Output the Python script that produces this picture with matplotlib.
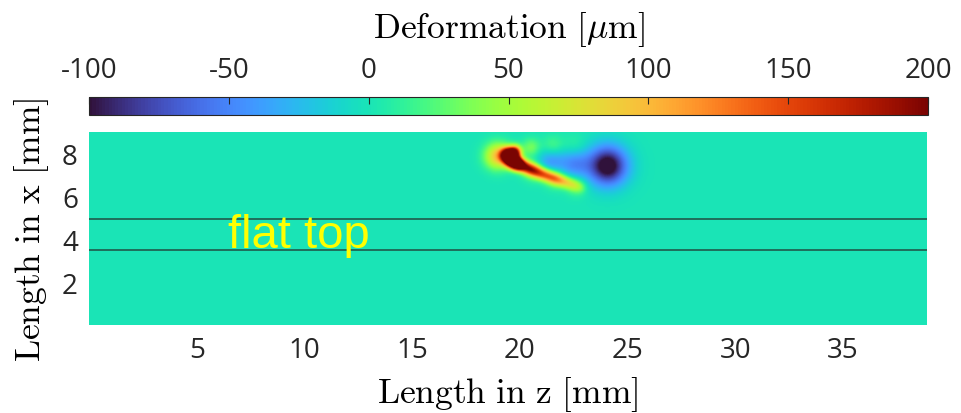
import numpy as np
import matplotlib.pyplot as plt
from matplotlib import colors

plt.rcParams['mathtext.fontset'] = 'cm'
plt.rcParams['axes.unicode_minus'] = False

# plate extent [mm]
z_len = 38.9
x_len = 9.0

background = 0.0
spot_z = [18.95, 19.4, 19.6, 19.75, 19.85,
          20.1, 20.4, 20.7, 21.0, 21.3, 21.6, 21.9, 22.2, 22.5, 22.8,
          20.6, 21.6, 22.6,
          20.5, 21.5, 22.5,
          21.4, 22.5, 24.05]
spot_x = [7.85, 7.9, 7.65, 8.05, 7.5,
          7.40, 7.27, 7.15, 7.03, 6.92, 6.81, 6.71, 6.61, 6.50, 6.40,
          7.15, 6.8, 6.45,
          8.25, 8.3, 8.3,
          7.6, 7.5, 7.4]
spot_amp = [95, 250, 250, 170, 240,
            131, 119, 106, 96, 87, 77, 64, 51, 38, 22,
            28, 28, 22,
            35, 25, 15,
            -40, -45, -115]
spot_sig = [0.42, 0.22, 0.22, 0.2, 0.2,
            0.2, 0.2, 0.2, 0.2, 0.2, 0.2, 0.2, 0.2, 0.2, 0.2,
            0.35, 0.35, 0.35,
            0.3, 0.35, 0.4,
            0.45, 0.5, 0.65]

# laser track borders
track_lines = [4.95, 3.52]

cbar_ticks = [-100, -50, 0, 50, 100, 150, 200]
z_ticks = [5, 10, 15, 20, 25, 30, 35]
x_ticks = [2, 4, 6, 8]

zz, xx = np.meshgrid(np.arange(0, z_len, 0.05), np.arange(0, x_len, 0.05))
field = np.full(zz.shape, background)
for zc, xc, a, s in zip(spot_z, spot_x, spot_amp, spot_sig):
    field += a * np.exp(-((zz - zc) ** 2 + (xx - xc) ** 2) / (2 * s ** 2))

W, H = 961, 414
fig = plt.figure(figsize=(W / 100, H / 100), dpi=100)
ax = fig.add_axes([89 / W, 1 - 326 / H, 838 / W, 193 / H])
cax = fig.add_axes([89 / W, 1 - 116 / H, 839 / W, 18 / H])

norm = colors.Normalize(vmin=-100, vmax=200)
im = ax.imshow(field, cmap='turbo', norm=norm, origin='lower',
               extent=[0, z_len, 0, x_len], aspect='auto', interpolation='bilinear')
for xl in track_lines:
    ax.axhline(xl, color='#1f5a4c', lw=1.2)

ax.text(6.45, 3.64, 'flat top', color='#ffff00', fontsize=34, family='Liberation Sans')

ax.set_xticks(z_ticks)
ax.set_yticks(x_ticks)
ax.tick_params(length=0, labelsize=20, labelcolor='#262626', pad=8)
for lab in ax.get_xticklabels() + ax.get_yticklabels():
    lab.set_family('Open Sans')
for sp in ax.spines.values():
    sp.set_visible(False)
ax.set_xlabel(r'$\mathrm{Length\ in\ z\ [mm]}$', fontsize=25.5, labelpad=7)
ax.set_ylabel(r'$\mathrm{Length\ in\ x\ [mm]}$', fontsize=25.5, labelpad=8)

cb = fig.colorbar(im, cax=cax, orientation='horizontal', ticks=cbar_ticks)
cax.xaxis.set_ticks_position('top')
cax.xaxis.set_label_position('top')
cax.tick_params(direction='in', length=5, width=0.8, color='#262626',
                labelsize=20, labelcolor='#262626', pad=9)
for lab in cax.get_xticklabels():
    lab.set_family('Open Sans')
cb.outline.set_edgecolor('#262626')
cb.set_label(r'$\mathrm{Deformation}\ [\mu\mathrm{m}]$', fontsize=25.5, labelpad=14)

fig.savefig('out.png', dpi=100)
